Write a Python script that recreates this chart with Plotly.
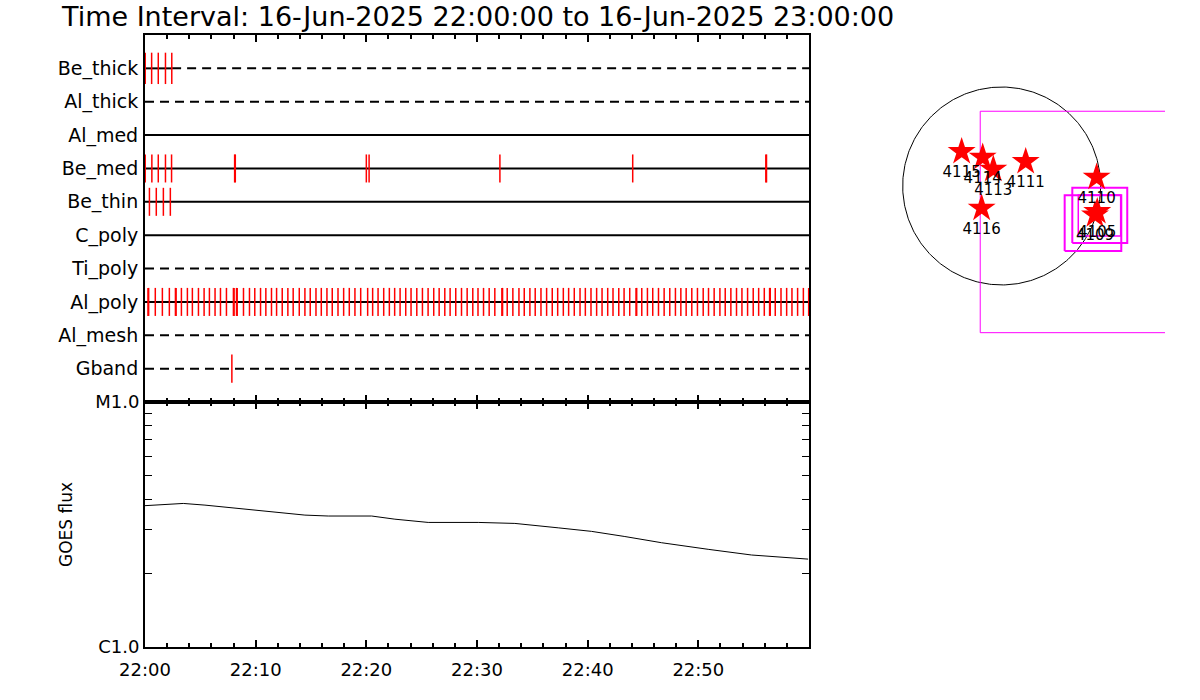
import plotly.graph_objects as go
import numpy as np

# ---------------- data ----------------
filters = ["Be_thick", "Al_thick", "Al_med", "Be_med", "Be_thin",
           "C_poly", "Ti_poly", "Al_poly", "Al_mesh", "Gband"]
row_dash = ["dash", "dash", "solid", "solid", "solid",
            "solid", "dash", "solid", "dash", "dash"]
# minutes after 22:00 at which images were taken in each filter
events = {
    "Be_thick": [0.02, 0.6, 1.2, 1.85, 2.42],
    "Al_thick": [],
    "Al_med": [],
    "Be_med": [0.02, 0.62, 1.2, 1.85, 2.4, 8.1, 8.16, 20.0, 20.25, 32.07,
               44.07, 56.1, 56.16],
    "Be_thin": [0.4, 1.02, 1.66, 2.29],
    "C_poly": [],
    "Ti_poly": [],
    "Al_poly": [0.27, 0.33, 0.93, 1.57, 2.20, 2.75, 2.81, 3.29, 3.83, 4.28,
                4.83, 5.34, 5.82, 6.33, 6.82, 7.36, 7.99, 8.05, 8.27, 8.33,
                8.90, 9.44, 9.92, 10.44, 10.92, 11.43, 11.89, 12.40, 12.91,
                13.39, 13.94, 14.45, 14.93, 15.45, 15.93, 16.44, 16.92, 17.44,
                17.95, 18.46, 18.97, 19.49, 20.12, 20.57, 21.06, 21.57, 22.08,
                22.56, 23.05, 23.56, 24.04, 24.56, 25.07, 25.58, 26.09, 26.58,
                27.09, 27.57, 28.08, 28.60, 29.11, 29.62, 30.09, 30.59, 31.10,
                31.61, 32.25, 32.31, 32.73, 33.24, 33.79, 34.27, 34.78, 35.26,
                35.78, 36.29, 36.80, 37.29, 37.80, 38.28, 38.79, 39.31, 39.79,
                40.30, 40.81, 41.30, 41.81, 42.29, 42.81, 43.29, 43.80, 44.37,
                44.43, 44.89, 45.40, 45.88, 46.40, 46.91, 47.42, 47.93, 48.42,
                48.90, 49.41, 49.92, 50.44, 50.92, 51.43, 51.95, 52.43, 52.94,
                53.45, 53.94, 54.45, 54.96, 55.45, 55.96, 56.44, 56.50, 56.95,
                57.47, 57.98, 58.46, 58.97, 59.49, 59.97],
    "Al_mesh": [],
    "Gband": [7.85],
}
be_thick_solid_end = 2.45  # observed interval drawn solid

goes_t = [0.0, 2.41, 3.46, 5.42, 7.52, 9.64, 10.84, 12.49, 14.45, 16.56, 20.48,
          22.58, 25.59, 30.11, 33.42, 37.34, 40.35, 43.36, 46.68, 50.89,
          54.81, 59.92]
goes_flux = [3.77e-6, 3.82e-6, 3.85e-6, 3.79e-6, 3.71e-6, 3.63e-6, 3.58e-6,
             3.53e-6, 3.45e-6, 3.42e-6, 3.42e-6, 3.32e-6, 3.22e-6, 3.22e-6,
             3.19e-6, 3.06e-6, 2.96e-6, 2.82e-6, 2.66e-6, 2.50e-6, 2.37e-6,
             2.28e-6]

time_ticks = [0, 10, 20, 30, 40, 50]
time_labels = ["22:00", "22:10", "22:20", "22:30", "22:40", "22:50"]
flux_ticks = [1e-6, 1e-5]
flux_labels = ["C1.0", "M1.0"]
flux_minor = [2e-6, 3e-6, 4e-6, 5e-6, 6e-6, 7e-6, 8e-6, 9e-6]

# solar map (arcsec)
ar_names = ["4115", "4114", "4113", "4111", "4116", "4110", "4105", "4109"]
ar_x = [-388, -184, -81, 233, -194, 921, 927, 905]
ar_y = [333, 278, 162, 236, -216, 84, -249, -281]
sun_radius = 960
fov_x0 = [-208, 685, 611, 743]
fov_x1 = [1800, 1218, 1160, 1154]
fov_y0 = [-1423, -553, -630, -485]
fov_y1 = [725, -16, -90, -87]
fov_w = [1, 2, 2, 1.5]

title_text = "Time Interval: 16-Jun-2025 22:00:00 to 16-Jun-2025 23:00:00"

# ---------------- layout helpers ----------------
W, H = 1200, 700
def px(x):
    return x / W
def py(y):
    return 1 - y / H

FONT = "DejaVu Sans"
fig = go.Figure()

nrow = len(filters)
row_y = {f: nrow - i for i, f in enumerate(filters)}

# horizontal filter lines
for f, d in zip(filters, row_dash):
    y = row_y[f]
    if f == "Be_thick":
        fig.add_trace(go.Scatter(x=[0, be_thick_solid_end], y=[y, y], mode="lines",
                                 line=dict(color="black", width=2),
                                 xaxis="x", yaxis="y", hoverinfo="skip"))
        fig.add_trace(go.Scatter(x=[be_thick_solid_end, 60], y=[y, y], mode="lines",
                                 line=dict(color="black", width=2, dash="9px,6px"),
                                 xaxis="x", yaxis="y", hoverinfo="skip"))
    else:
        fig.add_trace(go.Scatter(x=[0, 60], y=[y, y], mode="lines",
                                 line=dict(color="black", width=2,
                                           dash="9px,6px" if d == "dash" else "solid"),
                                 xaxis="x", yaxis="y", hoverinfo="skip"))

# red event ticks
for f in filters:
    ev = events[f]
    if not ev:
        continue
    y = row_y[f]
    half = 0.47 if f == "Be_thick" else 0.42
    xs, ys = [], []
    for t in ev:
        xs += [t, t, None]
        ys += [y - half, y + half, None]
    fig.add_trace(go.Scatter(x=xs, y=ys, mode="lines",
                             line=dict(color="red", width=1.5),
                             xaxis="x", yaxis="y", hoverinfo="skip"))

# GOES curve
fig.add_trace(go.Scatter(x=goes_t, y=goes_flux, mode="lines",
                         line=dict(color="black", width=1),
                         xaxis="x2", yaxis="y2", hoverinfo="skip"))

# solar disk
th = np.linspace(0, 2 * np.pi, 361)
fig.add_trace(go.Scatter(x=sun_radius * np.cos(th), y=sun_radius * np.sin(th),
                         mode="lines", line=dict(color="black", width=1),
                         xaxis="x3", yaxis="y3", hoverinfo="skip"))
# fields of view
for x0, x1, y0, y1, w in zip(fov_x0, fov_x1, fov_y0, fov_y1, fov_w):
    fig.add_trace(go.Scatter(x=[x0, x1, x1, x0, x0], y=[y0, y0, y1, y1, y0],
                             mode="lines", line=dict(color="#ff00ff", width=w),
                             xaxis="x3", yaxis="y3", hoverinfo="skip"))
# active regions
fig.add_trace(go.Scatter(x=ar_x, y=ar_y, mode="markers+text", text=ar_names,
                         textposition="bottom center",
                         textfont=dict(family=FONT, size=15, color="black"),
                         marker=dict(symbol="star", size=21, color="red",
                                     line=dict(width=0)),
                         xaxis="x3", yaxis="y3", hoverinfo="skip"))

xdom = [px(145), px(809)]
axis_common = dict(showgrid=False, zeroline=False, showline=True,
                   linecolor="black", linewidth=2, mirror="allticks",
                   automargin=False)

fig.update_layout(
    width=W, height=H, autosize=False,
    margin=dict(l=0, r=0, t=0, b=0, autoexpand=False),
    paper_bgcolor="white", plot_bgcolor="white",
    showlegend=False,
    font=dict(family=FONT, size=18, color="black"),
    xaxis=dict(domain=xdom, anchor="y", range=[0, 60], **axis_common,
               ticks="inside", ticklen=7, tickwidth=2, tickcolor="black",
               tickvals=time_ticks, showticklabels=False,
               minor=dict(dtick=2, tick0=0, ticks="inside", ticklen=4,
                          tickwidth=2, tickcolor="black")),
    yaxis=dict(domain=[py(402), py(35)], anchor="x", range=[0, 11], **axis_common,
               tickvals=[row_y[f] for f in filters], ticktext=filters,
               ticks="", ticklabelstandoff=1,
               tickfont=dict(family=FONT, size=19)),
    xaxis2=dict(domain=xdom, anchor="y2", range=[0, 60], **axis_common,
                ticks="inside", ticklen=7, tickwidth=2, tickcolor="black",
                tickvals=time_ticks, ticktext=time_labels,
                tickfont=dict(family=FONT, size=18), ticklabelstandoff=6,
                minor=dict(dtick=2, tick0=0, ticks="inside", ticklen=4,
                           tickwidth=2, tickcolor="black")),
    yaxis2=dict(domain=[py(646.7), py(402)], anchor="x2", type="log",
                range=[-6, -5], **axis_common,
                tickvals=flux_ticks, ticktext=flux_labels,
                ticks="inside", ticklen=7, tickwidth=1, tickcolor="black",
                tickfont=dict(family=FONT, size=18), ticklabelstandoff=0,
                minor=dict(tickvals=flux_minor, ticks="inside", ticklen=7,
                           tickwidth=1, tickcolor="black")),
    xaxis3=dict(domain=[px(880), px(1165)], anchor="y3", range=[-1180, 1584],
                visible=False, automargin=False),
    yaxis3=dict(domain=[py(340), py(80)], anchor="x3", range=[-1494, 1028],
                visible=False, automargin=False),
    annotations=[
        dict(text=title_text, x=px(59), y=py(16), xref="paper", yref="paper",
             xanchor="left", yanchor="middle", showarrow=False,
             font=dict(family=FONT, size=27, color="black")),
        dict(text="GOES flux", x=px(66), y=py(525), xref="paper", yref="paper",
             xanchor="center", yanchor="middle", showarrow=False, textangle=-90,
             font=dict(family=FONT, size=17, color="black")),
    ],
)

fig.write_html("out.html", config={"displayModeBar": False, "responsive": False},
               post_script="document.body.style.margin='0';")
